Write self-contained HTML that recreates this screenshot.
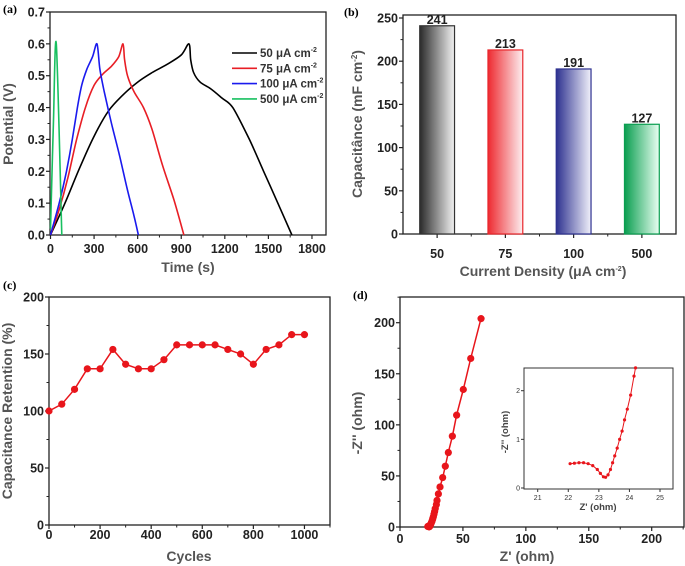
<!DOCTYPE html>
<html><head><meta charset="utf-8"><style>
body{margin:0;background:#fff;width:685px;height:566px;overflow:hidden}
svg{display:block;font-family:"Liberation Sans",sans-serif}
.tk{font-size:12.5px;font-weight:bold;fill:#222}
.tt{font-size:14px;font-weight:bold;fill:#555}
.pl{font-family:"Liberation Serif",serif;font-size:12px;font-weight:bold}
</style></head><body>
<svg id="fig" width="685" height="566" viewBox="0 0 685 566" xmlns="http://www.w3.org/2000/svg">
<defs>
<linearGradient id="gBlack" x1="0" x2="1"><stop offset="0" stop-color="#2a2a2a"/><stop offset="1" stop-color="#f2f2f2"/></linearGradient>
<linearGradient id="gRed" x1="0" x2="1"><stop offset="0" stop-color="#ee2a30"/><stop offset="1" stop-color="#fdeef0"/></linearGradient>
<linearGradient id="gBlue" x1="0" x2="1"><stop offset="0" stop-color="#2e3290"/><stop offset="1" stop-color="#f0f0fa"/></linearGradient>
<linearGradient id="gGreen" x1="0" x2="1"><stop offset="0" stop-color="#0a9e50"/><stop offset="1" stop-color="#eafff2"/></linearGradient>
</defs>
</svg>
<script>
// ---- Panel (a) data ----
const aXTicks=[0,300,600,900,1200,1500,1800];
const aYTicks=[0.0,0.1,0.2,0.3,0.4,0.5,0.6,0.7];
const aNames=["50 μA cm","75 μA cm","100 μA cm","500 μA cm"];
const a50T=[0,100,200,300,400,500,600,700,800,900,953,965,985,1030,1100,1180,1255,1369,1467,1565,1662];
const a50V=[0,0.1,0.21,0.31,0.39,0.44,0.48,0.51,0.535,0.565,0.6,0.55,0.51,0.48,0.46,0.43,0.4,0.3,0.2,0.1,0];
const a75T=[0,60,120,180,240,300,360,420,470,499,510,530,575,640,700,770,850,918];
const a75V=[0,0.08,0.18,0.3,0.4,0.47,0.505,0.53,0.56,0.6,0.55,0.5,0.45,0.4,0.33,0.22,0.11,0];
const a100T=[0,60,110,150,185,215,250,290,320,340,370,420,475,525,575,605];
const a100V=[0,0.1,0.2,0.3,0.4,0.47,0.52,0.56,0.6,0.52,0.45,0.35,0.25,0.15,0.06,0];
const a500T=[0,5,20,40,78];
const a500V=[0.02,0.1,0.35,0.6,0];
// ---- Panel (b) data ----
const bCats=["50","75","100","500"];
const bVals=[241,213,191,127];
const bYTicks=[0,50,100,150,200,250];
// ---- Panel (c) data ----
const cCycles=[0,50,100,150,200,250,300,350,400,450,500,550,600,650,700,750,800,850,900,950,1000];
const cRet=[100,106,119,137,137,154,141,137,137,145,158,158,158,158,154,150,141,154,158,167,167];
const cXTicks=[0,200,400,600,800,1000];
const cYTicks=[0,50,100,150,200];
// ---- Panel (d) data ----
const dZr=[22.06,22.35,22.65,22.95,23.15,23.3,23.45,23.6,23.76,23.93,24.15,24.5,25,25.5,26,26.5,27,27.5,28,28.9,29.4,30.5,31.8,33.9,36,38.4,41.6,45,50.3,56.2,64.4];
const dZi=[0.5,0.52,0.5,0.38,0.23,0.27,0.52,0.82,1.17,1.62,2.3,3,4.5,6,8,10,12.5,15,18,22,26,32.4,39.2,48.4,59.5,72.9,88.9,109.5,134.6,165,204];
const dTicks=[0,50,100,150,200];
const inZr=[22.06,22.2,22.35,22.5,22.65,22.8,22.95,23.05,23.15,23.22,23.3,23.38,23.45,23.52,23.6,23.68,23.76,23.84,23.93,24.04,24.15,24.2];
const inZi=[0.5,0.51,0.52,0.52,0.5,0.46,0.38,0.3,0.23,0.22,0.27,0.38,0.52,0.66,0.82,1.0,1.17,1.4,1.62,1.91,2.3,2.47];
const inXTicks=[21,22,23,24,25];
const inYTicks=[0,1,2];

const NS="http://www.w3.org/2000/svg";
const svg=document.getElementById('fig');
function el(tag,attrs,parent,txt){const e=document.createElementNS(NS,tag);for(const k in attrs)e.setAttribute(k,attrs[k]);if(txt!==undefined)e.textContent=txt;(parent||svg).appendChild(e);return e;}
function lin(d0,d1,r0,r1){return v=>r0+(v-d0)/(d1-d0)*(r1-r0);}
function smooth(pts){let d='M'+pts[0][0].toFixed(1)+','+pts[0][1].toFixed(1);
 for(let i=0;i<pts.length-1;i++){const p0=pts[i-1]||pts[i],p1=pts[i],p2=pts[i+1],p3=pts[i+2]||p2;const k=0.15;
  d+=` C${(p1[0]+(p2[0]-p0[0])*k).toFixed(1)},${(p1[1]+(p2[1]-p0[1])*k).toFixed(1)} ${(p2[0]-(p3[0]-p1[0])*k).toFixed(1)},${(p2[1]-(p3[1]-p1[1])*k).toFixed(1)} ${p2[0].toFixed(1)},${p2[1].toFixed(1)}`;}
 return d;}

function frame(g,L,T,R,B,sw){const r=el('rect',{x:L,y:T,width:R-L,height:B-T,fill:'none',stroke:'#222','stroke-width':sw||1.3},g);
}
function xAxis(g,ticks,sx,B,ly,minor,cls){
 ticks.forEach(t=>{const X=sx(t);el('line',{x1:X,y1:B,x2:X,y2:B+4,stroke:'#222','stroke-width':1.2},g);
  const tx=el('text',{x:X,y:ly,'text-anchor':'middle',class:cls||'tk'},g,String(t));
  });
 (minor||[]).forEach(t=>el('line',{x1:sx(t),y1:B,x2:sx(t),y2:B+2.5,stroke:'#222','stroke-width':1},g));
}
function yAxis(g,ticks,sy,L,fmt,minor,cls){
 ticks.forEach(t=>{const Y=sy(t);el('line',{x1:L-4,y1:Y,x2:L,y2:Y,stroke:'#222','stroke-width':1.2},g);
  const tx=el('text',{x:L-5,y:Y+4.5,'text-anchor':'end',class:cls||'tk'},g,fmt?fmt(t):String(t));
  });
 (minor||[]).forEach(t=>el('line',{x1:L-2.5,y1:sy(t),x2:L,y2:sy(t),stroke:'#222','stroke-width':1},g));
}
function title(g,txt,x,y,rot,name){const a={x:x,y:y,'text-anchor':'middle',class:'tt'};if(rot)a.transform=`rotate(-90 ${x} ${y})`;
 const t=el('text',a,g);t.innerHTML=txt;return t;}
function mids(arr){const m=[];for(let i=0;i<arr.length-1;i++)m.push((arr[i]+arr[i+1])/2);return m;}

// ===== Panel A =====
(function(){
 const g=el('g',{});
 const L=50,R=326,T=12,B=235;
 const sx=lin(0,1900,50.5,326.5), sy=lin(0,0.7,B,T);
 frame(g,L,T,R,B);
 xAxis(g,aXTicks,sx,B,253,mids(aXTicks));
 yAxis(g,aYTicks,sy,L,v=>v.toFixed(1),mids(aYTicks));
 title(g,'Time (s)',188,272,false,'x-axis-title');
 title(g,'Potential (V)',13,124,true,'y-axis-title');
 const lab=el('text',{x:3,y:13,class:'pl'},g,'(a)');
 const series=[[a50T,a50V,'#000'],[a75T,a75V,'#e81e25'],[a100T,a100V,'#1a1aee'],[a500T,a500V,'#18c060']];
 series.forEach((s,i)=>{const pts=s[0].map((t,j)=>[sx(t),sy(s[1][j])]);
  const pl=el('path',{d:smooth(pts),fill:'none',stroke:s[2],'stroke-width':1.6,'stroke-linejoin':'round'},g);
  
  const ly=53+i*15.3;
  const lg=el('g',{},g);
  el('line',{x1:232,y1:ly,x2:257,y2:ly,stroke:s[2],'stroke-width':1.6},lg);
  const tx=el('text',{x:260,y:ly+4,style:'font-size:11.5px;font-weight:bold;fill:#333'},lg);
  tx.innerHTML=aNames[i]+'<tspan dy="-5" style="font-size:7px">-2</tspan>';
 });
})();

// ===== Panel B =====
(function(){
 const g=el('g',{});
 const L=403,R=676,T=15,B=234;
 const sy=lin(0,250,B,18); const band=(R-L)/bCats.length; const bw=band*0.51;
 frame(g,L,T,R,B);
 yAxis(g,bYTicks,sy,L,null,mids(bYTicks));
 const fills=['url(#gBlack)','url(#gRed)','url(#gBlue)','url(#gGreen)'];
 const strokes=['#333','#e8262b','#2e3290','#0a9e50'];
 bCats.forEach((c,i)=>{const cx=L+band*(i+0.5);
  el('line',{x1:cx,y1:B,x2:cx,y2:B+4,stroke:'#222','stroke-width':1.2},g);
  if(i<bCats.length-1) el('line',{x1:L+band*(i+1),y1:B,x2:L+band*(i+1),y2:B+2.5,stroke:'#222'},g);
  const t=el('text',{x:cx,y:258,'text-anchor':'middle',class:'tk'},g,c);
  const r=el('rect',{x:cx-bw/2,y:sy(bVals[i]),width:bw,height:B-sy(bVals[i]),fill:fills[i],stroke:strokes[i],'stroke-width':1.2},g);
  
  const v=el('text',{x:cx,y:sy(bVals[i])-2,'text-anchor':'middle',class:'tk'},g,String(bVals[i]));
  
 });
 title(g,'Current Density (μA cm<tspan dy="-5" style="font-size:7px">-2</tspan><tspan dy="5">)</tspan>',543,276,false,'x-axis-title');
 title(g,'Capacitânce (mF cm<tspan dy="-5" style="font-size:8px">-2</tspan><tspan dy="5">)</tspan>',362,124,true,'y-axis-title');
 const lab=el('text',{x:344,y:16,class:'pl'},g,'(b)');
})();

// ===== Panel C =====
(function(){
 const g=el('g',{});
 const L=49,R=330,T=297,B=525;
 const sx=lin(0,1100,L,R), sy=lin(0,200,B,T);
 frame(g,L,T,R,B);
 xAxis(g,cXTicks,sx,B,539,mids(cXTicks).concat([1100]));
 yAxis(g,cYTicks,sy,L,null,mids(cYTicks));
 title(g,'Cycles',189,561,false,'x-axis-title');
 title(g,'Capacitance Retention (%)',12,411,true,'y-axis-title');
 const lab=el('text',{x:3,y:289,class:'pl'},g,'(c)');
 const p=cCycles.map((c,i)=>sx(c).toFixed(1)+','+sy(cRet[i]).toFixed(1)).join(' ');
 const pl=el('polyline',{points:p,fill:'none',stroke:'#e8151b','stroke-width':1.5},g);
 cCycles.forEach((c,i)=>{const m=el('circle',{cx:sx(c),cy:sy(cRet[i]),r:3.6,fill:'#e8151b'},g);});
})();

// ===== Panel D =====
(function(){
 const g=el('g',{});
 const L=400,R=684,T=297,B=527;
 const sx=lin(0,225,L,L+(651.7-400)*225/200), sy=lin(0,200,B,322.7);
 frame(g,L,T,R,B);
 xAxis(g,dTicks,sx,B,543,mids(dTicks).concat([225]));
 yAxis(g,dTicks,sy,L,null,mids(dTicks).concat([225]));
 title(g,"Z' (ohm)",527,561,false,'x-axis-title');
 title(g,"-Z'' (ohm)",362,423,true,'y-axis-title');
 const lab=el('text',{x:353,y:299,class:'pl'},g,'(d)');
 const p=dZr.map((z,i)=>sx(z).toFixed(1)+','+sy(dZi[i]).toFixed(1)).join(' ');
 const pl=el('polyline',{points:p,fill:'none',stroke:'#e8151b','stroke-width':1.5},g);
 dZr.forEach((z,i)=>{const m=el('circle',{cx:sx(z),cy:sy(dZi[i]),r:3.6,fill:'#e8151b'},g);});
 // inset
 const ig=el('g',{},g);
 const iL=524,iR=673,iT=368,iB=489;
 const ix=lin(21,25,537.7,660), iy=lin(0,2,488,390.7);
 el('rect',{x:iL,y:iT,width:iR-iL,height:iB-iT,fill:'#fff',stroke:'#333','stroke-width':1},ig);
 inXTicks.forEach(t=>{el('line',{x1:ix(t),y1:iB,x2:ix(t),y2:iB+3,stroke:'#333'},ig);
  const tx=el('text',{x:ix(t),y:iB+11,'text-anchor':'middle',style:'font-size:7px;fill:#333'},ig,String(t));});
 inYTicks.forEach(t=>{el('line',{x1:iL-3,y1:iy(t),x2:iL,y2:iy(t),stroke:'#333'},ig);
  const tx=el('text',{x:iL-4,y:iy(t)+2.5,'text-anchor':'end',style:'font-size:7px;fill:#333'},ig,String(t));});
 const t1=el('text',{x:598,y:510,'text-anchor':'middle',style:'font-size:9.5px;font-weight:bold;fill:#444'},ig,"Z' (ohm)");
 const t2=el('text',{x:508,y:432,'text-anchor':'middle',transform:'rotate(-90 508 432)',style:'font-size:9.5px;font-weight:bold;fill:#444'},ig,"-Z'' (ohm)");
 const ip=inZr.map((z,i)=>ix(z).toFixed(1)+','+iy(inZi[i]).toFixed(1)).join(' ');
 const ipl=el('polyline',{points:ip,fill:'none',stroke:'#e8151b','stroke-width':1},ig);
 inZr.forEach((z,i)=>{const m=el('circle',{cx:ix(z),cy:iy(inZi[i]),r:1.6,fill:'#e8151b'},ig);});
})();
</script>
</body></html>
